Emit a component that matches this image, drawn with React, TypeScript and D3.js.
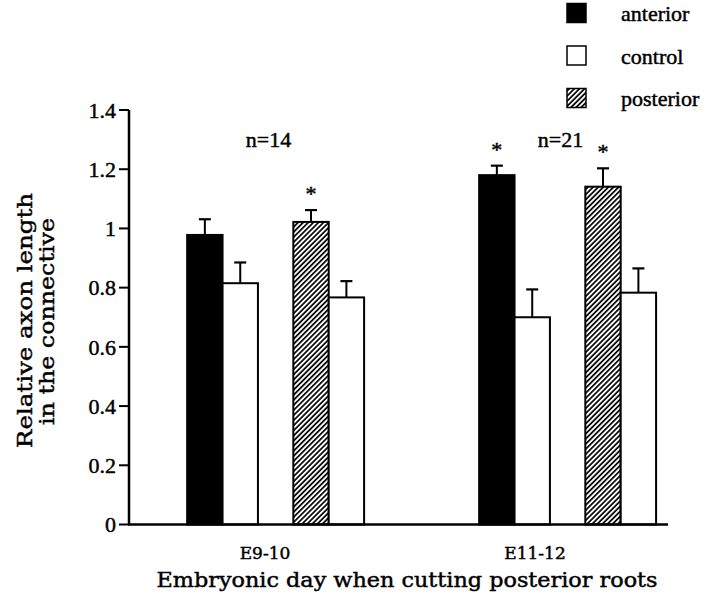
import React from "react";
import * as d3 from "d3";

const groups = ["E9-10", "E11-12"];
const anteriorMeans = [0.978, 1.18];
const anteriorErr = [0.053, 0.032];
const controlAMeans = [0.815, 0.70];
const controlAErr = [0.07, 0.094];
const posteriorMeans = [1.022, 1.141];
const posteriorErr = [0.04, 0.062];
const controlPMeans = [0.767, 0.783];
const controlPErr = [0.055, 0.082];
const sampleSizes = ["n=14", "n=21"];
const yTicks = [0, 0.2, 0.4, 0.6, 0.8, 1, 1.2, 1.4];
const yTickLabels = ["0", "0.2", "0.4", "0.6", "0.8", "1", "1.2", "1.4"];
const legendItems = ["anterior", "control", "posterior"];
const sigAnterior = [false, true];
const sigPosterior = [true, true];

const slots = ["anterior", "controlA", "gap", "posterior", "controlP"];

export default function App() {
  const W = 720, H = 604;
  const x0 = 129, x1 = 668, yBase = 524.5, yTop = 110;
  const y = d3.scaleLinear().domain([0, 1.4]).range([yBase, yTop]);
  const xg = d3.scaleBand().domain(groups).range([x0, x1]).paddingInner(0.394).paddingOuter(0.12).align(0.83);
  const xs = d3.scaleBand().domain(slots).range([0, xg.bandwidth()]);
  const xLabel = d3.scalePoint().domain(groups).range([265, 535]);

  const serifStyle = { fontFamily: "Liberation Serif, Tinos, Times New Roman, serif" };
  const centuryStyle = { fontFamily: "DejaVu Serif, Liberation Serif, serif" };
  const thick = { stroke: "#000", strokeWidth: 0.45 };

  const series = [
    { slot: "anterior", means: anteriorMeans, errs: anteriorErr, fill: "#000", sig: sigAnterior },
    { slot: "controlA", means: controlAMeans, errs: controlAErr, fill: "#fff", sig: null },
    { slot: "posterior", means: posteriorMeans, errs: posteriorErr, fill: "url(#hatch)", sig: sigPosterior },
    { slot: "controlP", means: controlPMeans, errs: controlPErr, fill: "#fff", sig: null },
  ];

  const bw = xs.bandwidth();

  return (
    <svg width={W} height={H} style={{ position: "absolute", left: 0, top: 0, background: "#fff" }}>
      <defs>
        <pattern id="hatch" patternUnits="userSpaceOnUse" width={3.6} height={3.6} patternTransform="rotate(45)">
          <rect width={3.6} height={3.6} fill="#fff" />
          <line x1={0.9} y1={0} x2={0.9} y2={3.6} stroke="#000" strokeWidth={1.7} />
        </pattern>
      </defs>
      <rect width={W} height={H} fill="#fff" />

      {groups.map((g, gi) => (
        <g key={g}>
          {series.map((s) => {
            const bx = (xg(g) as number) + (xs(s.slot) as number);
            const top = y(s.means[gi]);
            const et = y(s.means[gi] + s.errs[gi]);
            const cx = bx + bw / 2;
            return (
              <g key={s.slot}>
                <line x1={cx} x2={cx} y1={top} y2={et} stroke="#000" strokeWidth={2} />
                <line x1={cx - 6} x2={cx + 6} y1={et} y2={et} stroke="#000" strokeWidth={2.2} />
                <rect x={bx} y={top} width={bw} height={yBase - top} fill={s.fill} stroke="#000" strokeWidth={2} />
                {s.sig && s.sig[gi] ? (
                  <text x={cx} y={et - 9} textAnchor="middle" style={{ ...serifStyle, ...thick }} fontSize={22} fill="#000">*</text>
                ) : null}
              </g>
            );
          })}
          <text x={(xg(g) as number) + xg.bandwidth() * 0.46} y={147} textAnchor="middle" style={{ ...serifStyle, ...thick }} fontSize={22} fill="#000">{sampleSizes[gi]}</text>
          <text x={xLabel(g)} y={559} textAnchor="middle" style={{ ...centuryStyle, ...thick }} fontSize={17} fill="#000">{g}</text>
        </g>
      ))}

      <line x1={x0} x2={x0} y1={yTop} y2={yBase} stroke="#000" strokeWidth={2.5} />
      <line x1={x0 - 1} x2={x1} y1={yBase} y2={yBase} stroke="#000" strokeWidth={2.5} />
      {yTicks.map((t, i) => (
        <g key={t}>
          <line x1={x0 - 10} x2={x0} y1={y(t)} y2={y(t)} stroke="#000" strokeWidth={2} />
          <text x={116} y={y(t)} dy="0.35em" textAnchor="end" style={{ ...serifStyle, ...thick }} fontSize={22} fill="#000">{yTickLabels[i]}</text>
        </g>
      ))}

      <text x={407} y={587} textAnchor="middle" style={{ ...centuryStyle, ...thick }} fontSize={20.5} textLength={501} lengthAdjust="spacingAndGlyphs" fill="#000">Embryonic day when cutting posterior roots</text>
      <text transform="translate(31.5,320.5) rotate(-90)" textAnchor="middle" style={{ ...centuryStyle, ...thick }} fontSize={21} textLength={255} lengthAdjust="spacingAndGlyphs" fill="#000">Relative axon length</text>
      <text transform="translate(53.5,321.5) rotate(-90)" textAnchor="middle" style={{ ...centuryStyle, ...thick }} fontSize={21} textLength={207} lengthAdjust="spacingAndGlyphs" fill="#000">in the connective</text>

      {legendItems.map((name, i) => {
        const ly = 3.5 + i * 42.5;
        const fill = i === 0 ? "#000" : i === 1 ? "#fff" : "url(#hatch)";
        return (
          <g key={name}>
            <rect x={567} y={ly} width={19} height={19} fill={fill} stroke="#000" strokeWidth={1.5} />
            <text x={621} y={ly + 17.5} style={{ ...serifStyle, ...thick }} fontSize={22} fill="#000">{name}</text>
          </g>
        );
      })}
    </svg>
  );
}
